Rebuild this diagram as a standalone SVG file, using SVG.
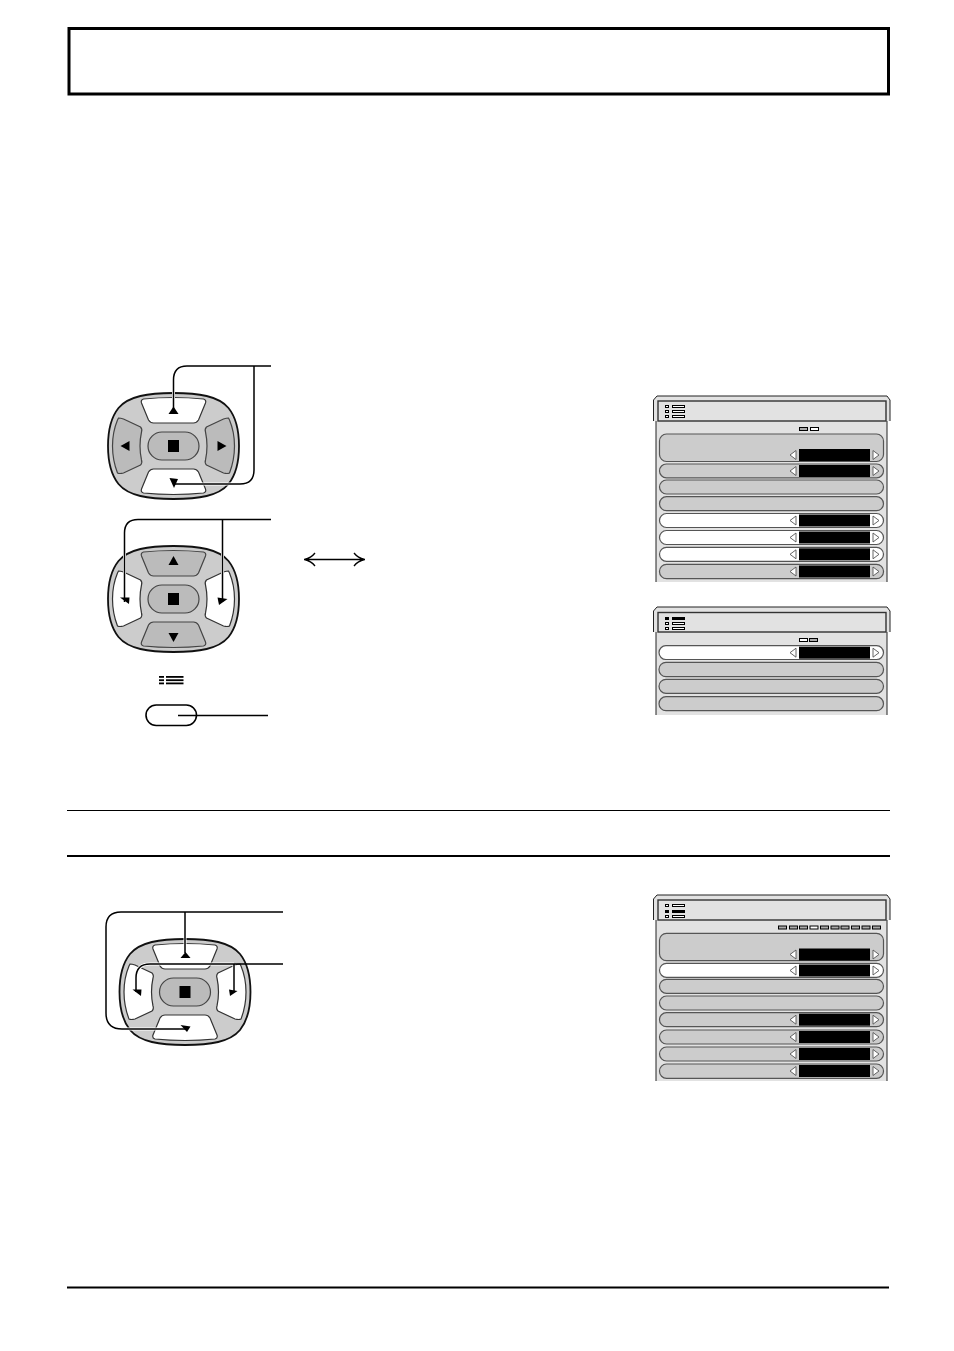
<svg xmlns="http://www.w3.org/2000/svg" xmlns:xlink="http://www.w3.org/1999/xlink" width="954" height="1351" viewBox="0 0 954 1351">
<style>
.rule{stroke:#000;fill:none}
.body{fill:#ccc;stroke:#111;stroke-width:1.8}
.lit{fill:#fff;stroke:#333;stroke-width:1.2}
.dim{fill:#bbb;stroke:#444;stroke-width:1.2}
.mid{fill:#bbb;stroke:#444;stroke-width:1.2}
.k{fill:#000}
.halo{fill:none;stroke:#fff;stroke-width:3}
.wire{fill:none;stroke:#000;stroke-width:1.5}
.panel{fill:#e2e2e2}
.edge{fill:none;stroke:#222;stroke-width:1}
.tf{fill:#e2e2e2;stroke:#333;stroke-width:1.4}
.rg{fill:#ccc;stroke:#555;stroke-width:1.2}
.rw{fill:#fff;stroke:#555;stroke-width:1.2}
.tri{fill:#fff;stroke:#555;stroke-width:.9}
.ig{fill:#aaa;stroke:#000;stroke-width:1}
.iw{fill:#fff;stroke:#000;stroke-width:1}
</style>
<defs>
<path id="b" d="M0,-53C25,-53 45,-50 55,-38C63,-28 65.5,-14 65.5,0C65.5,14 63,28 55,38C45,50 25,53 0,53C-25,53 -45,50 -55,38C-63,28 -65.5,14 -65.5,0C-65.5,-14 -63,-28 -55,-38C-45,-50 -25,-53 0,-53Z"/>
<path id="tb" d="M-30,-47Q0,-50 30,-47Q33,-46 32,-43L25,-26Q23,-23 20,-23L-20,-23Q-23,-23 -25,-26L-32,-43Q-33,-46 -30,-47Z"/>
<path id="lb" d="M-55,-28Q-53,-28 -50,-27L-33,-19Q-31,-17 -32,-14Q-35,0 -32,14Q-31,17 -33,19L-50,27Q-54,28 -56,27Q-61,14 -61,0Q-61,-14 -56,-26Z"/>
<g id="core">
<rect class="mid" x="-25.500" y="-14" width="51" height="28" rx="14"/>
<rect class="k" x="-5.500" y="-6" width="11" height="12"/>
</g>
<g id="ctl">
<rect class="k" x="799" y="1" width="71" height="12"/>
<polygon class="tri" points="790,7 796,2.500 796,11.500"/>
<polygon class="tri" points="879,7 873,2.500 873,11.500"/>
</g>
<g id="mi">
<rect x="665.500" y="0" width="3" height="2" class="iw"/>
<rect x="672.500" y="0" width="12" height="2" class="iw"/>
</g>
<g id="mf">
<rect x="665" y="-.500" width="4" height="3" class="k"/>
<rect x="672" y="-.500" width="13" height="3" class="k"/>
</g>
</defs>

<rect width="954" height="1351" fill="#fff"/>

<g id="title-box"><rect x="69" y="28.500" width="819.500" height="65.500" fill="#fff" stroke="#000" stroke-width="3"/></g>
<g id="rules">
<path class="rule" stroke-width="1" d="M67 810.500H890"/>
<path class="rule" stroke-width="2" d="M67 856H890"/>
<path class="rule" stroke-width="2" d="M67 1287.500H889"/>
</g>

<g id="remote-1" transform="translate(173.500 446)">
<use href="#b" class="body"/>
<use href="#tb" class="lit"/>
<use href="#tb" class="lit" transform="scale(1 -1)"/>
<use href="#lb" class="dim"/>
<use href="#lb" class="dim" transform="scale(-1 1)"/>
<use href="#core"/>
<polygon class="k" points="-53,0 -44,-5 -44,5"/>
<polygon class="k" points="53,0 44,-5 44,5"/>
</g>
<g id="remote-2" transform="translate(173.500 599)">
<use href="#b" class="body"/>
<use href="#tb" class="dim"/>
<use href="#tb" class="dim" transform="scale(1 -1)"/>
<use href="#lb" class="lit"/>
<use href="#lb" class="lit" transform="scale(-1 1)"/>
<use href="#core"/>
<polygon class="k" points="0,-43 -5,-34 5,-34"/>
<polygon class="k" points="0,43 -5,34 5,34"/>
</g>
<g id="remote-3" transform="translate(185 992)">
<use href="#b" class="body"/>
<use href="#tb" class="lit"/>
<use href="#tb" class="lit" transform="scale(1 -1)"/>
<use href="#lb" class="lit"/>
<use href="#lb" class="lit" transform="scale(-1 1)"/>
<use href="#core"/>
</g>

<g id="menu-button">
<g class="k">
<rect x="159" y="676" width="5" height="1.800"/><rect x="166" y="676" width="17.500" height="1.800"/>
<rect x="159" y="679.300" width="5" height="1.800"/><rect x="166" y="679.300" width="17.500" height="1.800"/>
<rect x="159" y="682.500" width="5" height="1.800"/><rect x="166" y="682.500" width="17.500" height="1.800"/>
</g>
<rect x="146" y="705" width="50.500" height="20.500" rx="10.200" fill="#fff" stroke="#000" stroke-width="1.600"/>
</g>

<g id="connectors">
<path class="halo" d="M173.500 410V380Q173.500 366 187 366H254V470Q254 484 240 484H175"/>
<path class="wire" d="M173.500 410V380Q173.500 366 187 366H271M254 366V470Q254 484 240 484H173"/>
<polygon class="k" points="168.500,414 178.500,414 173.500,406.500"/>
<polygon class="k" points="169.500,478 178,479 174,488"/>

<path class="halo" d="M124.500 600V533Q124.500 519.500 138 519.500H222.500V600"/>
<path class="wire" d="M124.500 602V533Q124.500 519.500 138 519.500H271M222.500 519.500V602"/>
<polygon class="k" points="120,597.500 129.500,597.500 129,604"/>
<polygon class="k" points="217.500,597.500 227.500,599 219,605"/>

<path class="wire" d="M178 715.500H268"/>

<path class="halo" d="M185 912V952M187 1029H122Q106 1029 106 1013V927Q106 912 121 912H185M234 964V990M136 990V978Q136 964 150 964H234"/>
<path class="wire" d="M283 912H121Q106 912 106 927V1013Q106 1029 122 1029H187M185 912V953"/>
<path class="wire" d="M283 964H150Q136 964 136 978V992M234 964V992"/>
<polygon class="k" points="180.500,958 190.500,958 185.500,952"/>
<polygon class="k" points="180.500,1025 190.500,1026.500 187,1032"/>
<polygon class="k" points="132.500,989.500 141.500,989.500 141,996"/>
<polygon class="k" points="229,989.500 237.500,991 230,996"/>

<path fill="none" stroke="#000" stroke-width="1.300" d="M304 559.500H365M315 553Q311 558 304.500 559.500Q311 561 315 566M354 553Q358 558 364.500 559.500Q358 561 354 566"/>
</g>

<g id="screen-1">
<path class="panel" d="M653.500 400L657 396H887L890 400V421H887V582H656V421H653.500Z"/>
<path class="edge" d="M653.500 421V400L657 396H887L890 400V421M656 421V582M887 421V582"/>
<rect class="tf" x="658" y="401" width="228" height="20"/>
<g transform="translate(0 405.500)"><use href="#mi"/></g><g transform="translate(0 410.500)"><use href="#mi"/></g><g transform="translate(0 415.500)"><use href="#mi"/></g>
<rect class="ig" x="799.500" y="427.500" width="8" height="3"/><rect class="iw" x="810.500" y="427.500" width="8" height="3"/>
<rect class="rg" x="659.500" y="434" width="224" height="27.500" rx="7"/>
<rect class="rg" x="659.500" y="464" width="224" height="13.800" rx="6.900"/>
<rect class="rg" x="659.500" y="480" width="224" height="14" rx="7"/>
<rect class="rg" x="659.500" y="496.700" width="224" height="14" rx="7"/>
<rect class="rw" x="659.500" y="513.500" width="224" height="14" rx="7"/>
<rect class="rw" x="659.500" y="530.500" width="224" height="14" rx="7"/>
<rect class="rw" x="659.500" y="547.300" width="224" height="14" rx="7"/>
<rect class="rg" x="659.500" y="564.300" width="224" height="14.400" rx="7"/>
<use href="#ctl" y="448"/><use href="#ctl" y="464"/><use href="#ctl" y="513.500"/><use href="#ctl" y="530.500"/><use href="#ctl" y="547.300"/><use href="#ctl" y="564.500"/>
</g>

<g id="screen-2">
<path class="panel" d="M653.500 611L657 607H887L890 611V632H887V715H656V632H653.500Z"/>
<path class="edge" d="M653.500 632V611L657 607H887L890 611V632M656 632V715M887 632V715"/>
<rect class="tf" x="658" y="612.500" width="228" height="19.500"/>
<g transform="translate(0 617.500)"><use href="#mf"/></g><g transform="translate(0 622.500)"><use href="#mi"/></g><g transform="translate(0 627.500)"><use href="#mi"/></g>
<rect class="iw" x="799.500" y="638.500" width="8" height="3"/><rect class="ig" x="809.500" y="638.500" width="8" height="3"/>
<rect class="rw" x="659" y="645.700" width="224.500" height="13.800" rx="6.900"/>
<rect class="rg" x="659" y="662.300" width="224.500" height="14.400" rx="7"/>
<rect class="rg" x="659" y="679.300" width="224.500" height="14" rx="7"/>
<rect class="rg" x="659" y="696.700" width="224.500" height="14" rx="7"/>
<use href="#ctl" y="645.700"/>
</g>

<g id="screen-3">
<path class="panel" d="M653.500 899L657 895H887L890 899V920H887V1081H656V920H653.500Z"/>
<path class="edge" d="M653.500 920V899L657 895H887L890 899V920M656 920V1081M887 920V1081"/>
<rect class="tf" x="658" y="900" width="228" height="20"/>
<g transform="translate(0 904.500)"><use href="#mi"/></g><g transform="translate(0 910.500)"><use href="#mf"/></g><g transform="translate(0 915.500)"><use href="#mi"/></g>
<rect class="ig" x="778.500" y="926" width="8" height="3"/><rect class="ig" x="789.500" y="926" width="8" height="3"/><rect class="ig" x="799.500" y="926" width="8" height="3"/><rect class="iw" x="810" y="926" width="8" height="3"/><rect class="ig" x="820.500" y="926" width="8" height="3"/><rect class="ig" x="831" y="926" width="8" height="3"/><rect class="ig" x="841" y="926" width="8" height="3"/><rect class="ig" x="851.500" y="926" width="8" height="3"/><rect class="ig" x="862" y="926" width="8" height="3"/><rect class="ig" x="872.500" y="926" width="8" height="3"/>
<rect class="rg" x="659.500" y="933.300" width="224" height="27.400" rx="7"/>
<rect class="rw" x="659.500" y="963.300" width="224" height="14" rx="7"/>
<rect class="rg" x="659.500" y="979.300" width="224" height="14" rx="7"/>
<rect class="rg" x="659.500" y="996" width="224" height="14" rx="7"/>
<rect class="rg" x="659.500" y="1012.700" width="224" height="14" rx="7"/>
<rect class="rg" x="659.500" y="1030" width="224" height="14" rx="7"/>
<rect class="rg" x="659.500" y="1047" width="224" height="14" rx="7"/>
<rect class="rg" x="659.500" y="1064" width="224" height="14.300" rx="7"/>
<use href="#ctl" y="947.500"/><use href="#ctl" y="963.500"/><use href="#ctl" y="1012.700"/><use href="#ctl" y="1030"/><use href="#ctl" y="1047"/><use href="#ctl" y="1064"/>
</g>
</svg>
